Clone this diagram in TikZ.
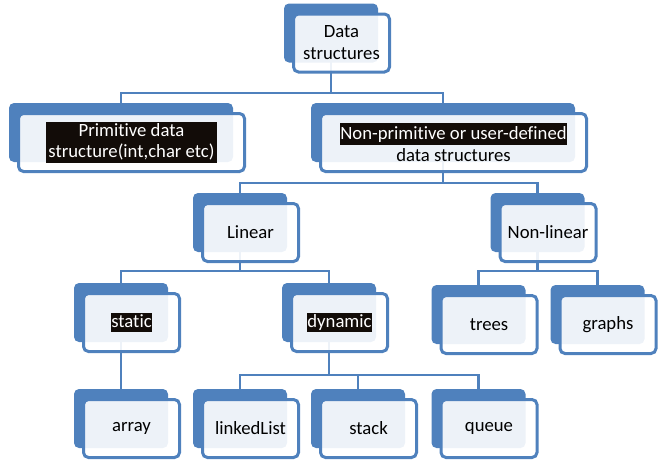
\documentclass[tikz,border=0pt]{standalone}
\usepackage{fontspec}
\setmainfont{Carlito}[Ligatures=NoCommon]
\usepackage{tikz}
\usetikzlibrary{calc,backgrounds}
\definecolor{dblue}{HTML}{4F81BD}
\definecolor{hlblack}{HTML}{120C08}
\newcommand{\hlbox}[1]{{\setlength{\fboxsep}{0.8pt}\colorbox{hlblack}{\textcolor{white}{\rule[-0.2em]{0pt}{0.92em}#1}}}}
\tikzset{
  dsbox/.style={draw=dblue,line width=3pt,rounded corners=5pt,fill=white,fill opacity=0.9,text opacity=1,
    minimum width=96pt,minimum height=58pt,inner sep=0pt,outer sep=0pt,align=center,
    font=\fontsize{18.7}{22}\selectfont},
  backb/.style={fill=dblue,rounded corners=5pt},
  conn/.style={draw=dblue,line width=2.6pt},
}

\begin{document}
\begin{tikzpicture}[x=1pt,y=-1pt]
  \useasboundingbox (0,0) rectangle (663,469);
  % front frames, placed at their centres (pixel coordinates)
  \node[dsbox] (ds) at (341.5,43) {Data\\structures};
  \node[dsbox,minimum width=226pt] (prim) at (131.5,142.5)
    {{\setlength{\fboxsep}{0pt}\renewcommand{\arraystretch}{0.95}\colorbox{hlblack}{\textcolor{white}{\begin{tabular}{@{\hspace{2pt}}c@{\hspace{2pt}}}Primitive data\\structure(int,char etc)\end{tabular}}}}};
  \node[dsbox,minimum width=266pt] (nonprim) at (453.5,142.5)
    {{\setlength{\fboxsep}{0.8pt}\colorbox{hlblack}{\textcolor{white}{\rule[-0.27em]{0pt}{1.08em}Non-primitive or user-defined}}}\\data structures};
  \foreach \n/\x/\y/\t in {lin/250.5/232.5/Linear, nonlin/548/232.5/Non-linear,
                           static/131.5/322.5/{\hlbox{static}}, dyn/339.5/322.5/{\hlbox{dynamic}},
                           trees/489/324.5/trees, graphs/608/324.5/graphs,
                           array/131.5/428.5/array, link/250.5/428.5/linkedList,
                           stack/368.5/428.5/stack, queue/489/428.5/queue} {
    \node[dsbox] (\n) at (\x,\y) {\t};
  }
  \begin{scope}[on background layer]
    \foreach \n in {ds,prim,nonprim,lin,nonlin,static,dyn,trees,graphs,array,link,stack,queue}
      \coordinate (\n-b) at ($(\n.center)+(-10.5,-10)$);
    % elbow connectors between the back boxes
    \foreach \p/\c/\d in {ds/prim/60, ds/nonprim/60, nonprim/lin/50.5, nonprim/nonlin/50.5,
                          lin/static/48.5, lin/dyn/48.5, nonlin/trees/48.5, nonlin/graphs/48.5,
                          static/array/50, dyn/link/62.5, dyn/stack/62.5, dyn/queue/62.5}
      \draw[conn] (\p-b) -- ++(0,\d) -| (\c-b);
    \foreach \n in {ds,prim,nonprim,lin,nonlin,static,dyn,trees,graphs,array,link,stack,queue}
      \fill[backb] ($(\n.north west)+(-9.5,-10.5)$) rectangle ($(\n.south east)+(-11.5,-9.5)$);
  \end{scope}
\end{tikzpicture}
\end{document}
